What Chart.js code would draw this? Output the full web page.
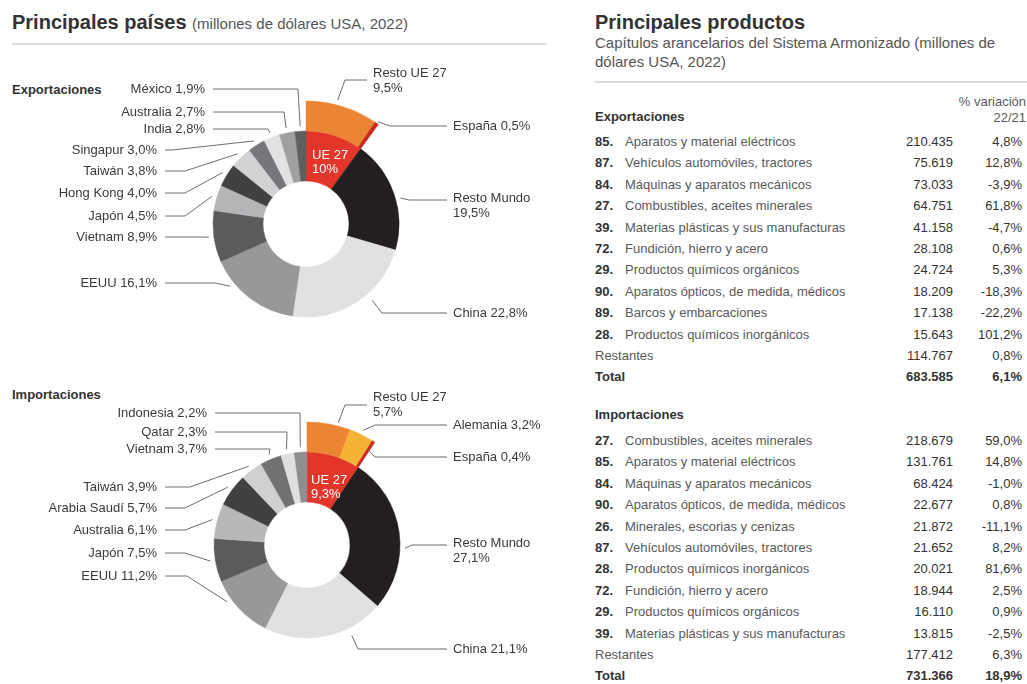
<!DOCTYPE html>
<html lang="es">
<head>
<meta charset="utf-8">
<script src="https://cdn.jsdelivr.net/npm/chart.js@4.4.0/dist/chart.umd.min.js"></script>
<style>
  body { margin: 0; width: 1027px; height: 684px; overflow: hidden; background: #fff; position: relative;
         font-family: "Liberation Sans", Arial, sans-serif; color: #333; }
  .abs { position: absolute; white-space: nowrap; line-height: 16px; }
  .title { font-size: 20px; font-weight: bold; color: #333; line-height: 24px; }
  .title span { font-weight: normal; font-size: 15px; color: #555; }
  .sub { font-size: 15px; color: #555; line-height: 19px; }
  .rule { position: absolute; height: 2px; background: #dcdcdc; }
  .head { font-size: 13px; font-weight: bold; color: #333; }
  .cell { font-size: 13px; color: #333; }
  .name { font-size: 13px; color: #58595b; }
  .code { font-size: 13px; font-weight: bold; color: #333; }
  .tot { font-weight: bold; }
  canvas { position: absolute; left: 0; }
</style>
</head>
<body>
<div class="abs title" style="left:12px; top:10px;">Principales países <span>(millones de dólares USA, 2022)</span></div>
<div class="rule" style="left:12px; top:43px; width:534px;"></div>
<div class="abs head" style="left:12px; top:82px;">Exportaciones</div>
<div class="abs head" style="left:12px; top:387px;">Importaciones</div>

<div class="abs title" style="left:595px; top:10px;">Principales productos</div>
<div class="abs sub" style="left:595px; top:33px;">Capítulos arancelarios del Sistema Armonizado (millones de<br>dólares USA, 2022)</div>
<div class="rule" style="left:595px; top:81px; width:432px;"></div>

<canvas id="expChart" width="560" height="300" style="top:60px"></canvas>
<canvas id="impChart" width="560" height="309" style="top:375px"></canvas>
<div id="tables"></div>

<script>
// Principales países, cuota % (orden horario desde las 12)
const expCountries = ['UE 27', 'Resto Mundo', 'China', 'EEUU', 'Vietnam', 'Japón', 'Hong Kong', 'Taiwán', 'Singapur', 'India', 'Australia', 'México'];
const expShares = [10, 19.5, 22.8, 16.1, 8.9, 4.5, 4.0, 3.8, 3.0, 2.8, 2.7, 1.9];
const expEuParts = ['Resto UE 27', 'España'];
const expEuShares = [9.5, 0.5];

const impCountries = ['UE 27', 'Resto Mundo', 'China', 'EEUU', 'Japón', 'Australia', 'Arabia Saudí', 'Taiwán', 'Vietnam', 'Qatar', 'Indonesia'];
const impShares = [9.3, 27.1, 21.1, 11.2, 7.5, 6.1, 5.7, 3.9, 3.7, 2.3, 2.2];
const impEuParts = ['Resto UE 27', 'Alemania', 'España'];
const impEuShares = [5.7, 3.2, 0.4];

// Principales productos
const expCodes = ['85', '87', '84', '27', '39', '72', '29', '90', '89', '28'];
const expProducts = ['Aparatos y material eléctricos', 'Vehículos automóviles, tractores', 'Máquinas y aparatos mecánicos',
  'Combustibles, aceites minerales', 'Materias plásticas y sus manufacturas', 'Fundición, hierro y acero',
  'Productos químicos orgánicos', 'Aparatos ópticos, de medida, médicos', 'Barcos y embarcaciones', 'Productos químicos inorgánicos'];
const expValues = [210435, 75619, 73033, 64751, 41158, 28108, 24724, 18209, 17138, 15643];
const expChange = [4.8, 12.8, -3.9, 61.8, -4.7, 0.6, 5.3, -18.3, -22.2, 101.2];
const expRest = [114767, 0.8];
const expTotal = [683585, 6.1];

const impCodes = ['27', '85', '84', '90', '26', '87', '28', '72', '29', '39'];
const impProducts = ['Combustibles, aceites minerales', 'Aparatos y material eléctricos', 'Máquinas y aparatos mecánicos',
  'Aparatos ópticos, de medida, médicos', 'Minerales, escorias y cenizas', 'Vehículos automóviles, tractores',
  'Productos químicos inorgánicos', 'Fundición, hierro y acero', 'Productos químicos orgánicos', 'Materias plásticas y sus manufacturas'];
const impValues = [218679, 131761, 68424, 22677, 21872, 21652, 20021, 18944, 16110, 13815];
const impChange = [59.0, 14.8, -1.0, 0.8, -11.1, 8.2, 81.6, 2.5, 0.9, -2.5];
const impRest = [177412, 6.3];
const impTotal = [731366, 18.9];

// colores
const RED = '#e4352b';
const expColors = [RED, '#231f20', '#e1e1e3', '#98989b', '#5b5b5e', '#b5b5b8', '#414143', '#d2d2d4', '#76767a', '#e2e2e4', '#a0a0a3', '#5f5f62'];
const expEuColors = ['#ec8533', '#c9281f'];
const impColors = [RED, '#231f20', '#e1e1e3', '#98989b', '#5b5b5e', '#b8b8bb', '#414143', '#d0d0d2', '#727275', '#dfdfe1', '#8e8e91'];
const impEuColors = ['#ec8533', '#f5b335', '#c9281f'];

const R_IN = 43, R_MID = 93, R_OUT = 123;

function fmtNum(n) {
    return String(n).replace(/\B(?=(\d{3})+(?!\d))/g, '.');
}
function fmtPct(v) {
    return v.toFixed(1).replace('.', ',') + '%';
}
function fmtShort(v) {
    return (Number.isInteger(v) ? String(v) : v.toFixed(1).replace('.', ',')) + '%';
}

// posiciones de etiquetas (coordenadas de pagina)
const expLayout = {
    top: 60, cx: 306, cy: 224, ue: [6, -69],
    inner: [null,
        {x: 453, y: 198, two: true, ly: 200, ex: 409, f: 0.55},
        {x: 453, y: 313, ex: 382, f: 0.4, dr: 8},
        {x: 157, y: 283, right: true, ex: 215, f: 0.73},
        {x: 157, y: 237, right: true, ex: 200},
        {x: 157, y: 216, right: true, ex: 185},
        {x: 157, y: 193, right: true, ex: 185},
        {x: 157, y: 171, right: true, ex: 185},
        {x: 157, y: 150, right: true, ex: 172},
        {x: 205, y: 129, right: true, ex: 268},
        {x: 205, y: 112, right: true, ex: 284},
        {x: 205, y: 89, right: true, ex: 298}
    ],
    outer: [
        {x: 373, y: 73, two: true, ly: 80, ex: 345, f: 0.42},
        {x: 453, y: 126, ex: 390, dr: 2}
    ]
};
const impLayout = {
    top: 375, cx: 307, cy: 545, ue: [4, -65],
    inner: [null,
        {x: 453, y: 543, two: true, ly: 545, ex: 412, f: 0.6},
        {x: 453, y: 649, ex: 358, f: 0.3, dr: 8},
        {x: 157, y: 576, right: true, ex: 187, f: 0.69},
        {x: 157, y: 553, right: true, ex: 185},
        {x: 157, y: 530, right: true, ex: 185},
        {x: 157, y: 508, right: true, ex: 185},
        {x: 157, y: 487, right: true, ex: 190},
        {x: 207, y: 449, right: true, ex: 270},
        {x: 207, y: 432, right: true, ex: 287},
        {x: 207, y: 413, right: true, ex: 300}
    ],
    outer: [
        {x: 373, y: 397, two: true, ly: 405, ex: 345, f: 0.7, dr: 3},
        {x: 453, y: 425, ex: 375},
        {x: 453, y: 457, ex: 375, dr: -10}
    ]
};

// Plugin para etiquetas con lineas guia
const leaderLabels = {
    id: 'leaderLabels',
    afterDraw(chart, args, opts) {
        const ctx = chart.ctx;
        const L = opts.layout;
        const off = L.top;
        ctx.save();
        ctx.font = '13px "Liberation Sans", Arial, sans-serif';
        ctx.textBaseline = 'middle';
        ctx.strokeStyle = '#6d6e71';
        ctx.lineWidth = 1;

        const drawOne = (el, spec, name, value) => {
            const ty = spec.y - off;
            const ly = (spec.ly !== undefined ? spec.ly : spec.y) - off;
            ctx.fillStyle = '#3a3a3c';
            if (spec.right) {
                ctx.textAlign = 'right';
                ctx.fillText(name + ' ' + fmtPct(value), spec.x, ty);
            } else {
                ctx.textAlign = 'left';
                if (spec.two) {
                    ctx.fillText(name, spec.x, ty);
                    ctx.fillText(fmtPct(value), spec.x, ty + 15);
                } else {
                    ctx.fillText(name + ' ' + fmtPct(value), spec.x, ty);
                }
            }
            const f = spec.f !== undefined ? spec.f : 0.5;
            const a = el.startAngle + f * (el.endAngle - el.startAngle);
            const r = el.outerRadius + (spec.dr !== undefined ? spec.dr : 5);
            const tx = el.x + r * Math.cos(a);
            const tyy = el.y + r * Math.sin(a);
            const sx = spec.right ? spec.x + 8 : spec.x - 6;
            ctx.beginPath();
            ctx.moveTo(sx, ly);
            ctx.lineTo(spec.ex, ly);
            ctx.lineTo(tx, tyy);
            ctx.stroke();
        };

        const outerMeta = chart.getDatasetMeta(0);
        const innerMeta = chart.getDatasetMeta(1);
        const innerData = chart.data.datasets[1];
        const outerData = chart.data.datasets[0];

        L.inner.forEach((spec, i) => {
            if (spec) drawOne(innerMeta.data[i], spec, innerData.labels[i], innerData.data[i]);
        });
        L.outer.forEach((spec, i) => {
            drawOne(outerMeta.data[i], spec, outerData.labels[i], outerData.data[i]);
        });

        // texto dentro del sector UE 27
        const ue = innerMeta.data[0];
        ctx.fillStyle = '#ffffff';
        ctx.textAlign = 'left';
        ctx.fillText(innerData.labels[0], ue.x + L.ue[0], ue.y + L.ue[1]);
        ctx.fillText(fmtShort(innerData.data[0]), ue.x + L.ue[0], ue.y + L.ue[1] + 14);
        ctx.restore();
    }
};

function makeDonut(canvasId, countries, shares, colors, euParts, euShares, euColors, layout) {
    const canvas = document.getElementById(canvasId);
    const w = canvas.width, h = canvas.height;
    const cxLocal = layout.cx, cyLocal = layout.cy - layout.top;
    const total = shares.reduce((s, v) => s + v, 0);
    const euSum = euShares.reduce((s, v) => s + v, 0);
    const filler = total - euSum;

    return new Chart(canvas.getContext('2d'), {
        type: 'doughnut',
        data: {
            datasets: [
                {
                    labels: euParts,
                    data: [...euShares, filler],
                    backgroundColor: [...euColors, 'rgba(0,0,0,0)'],
                    borderColor: [...euColors, 'rgba(0,0,0,0)'],
                    borderWidth: 0.5,
                    weight: R_OUT - R_MID
                },
                {
                    labels: countries,
                    data: shares,
                    backgroundColor: colors,
                    borderColor: colors,
                    borderWidth: 0.5,
                    weight: R_MID - R_IN
                }
            ]
        },
        options: {
            responsive: false,
            animation: false,
            events: [],
            radius: R_OUT,
            cutout: (R_IN / R_OUT * 100) + '%',
            layout: {
                padding: {
                    left: Math.max(2 * cxLocal - w, 0),
                    right: Math.max(w - 2 * cxLocal, 0),
                    top: Math.max(2 * cyLocal - h, 0),
                    bottom: Math.max(h - 2 * cyLocal, 0)
                }
            },
            plugins: {
                legend: { display: false },
                tooltip: { enabled: false },
                leaderLabels: { layout: layout }
            }
        },
        plugins: [leaderLabels]
    });
}

makeDonut('expChart', expCountries, expShares, expColors, expEuParts, expEuShares, expEuColors, expLayout);
makeDonut('impChart', impCountries, impShares, impColors, impEuParts, impEuShares, impEuColors, impLayout);

// Tablas de productos
function buildTable(container, y0, codes, products, values, change, rest, total) {
    const step = 21.4;
    let html = '';
    const row = (y, left, right1, right2, cls) => {
        html += left;
        html += `<div class="abs cell ${cls}" style="top:${y - 8}px; right:${1027 - 953}px; text-align:right;">${right1}</div>`;
        html += `<div class="abs cell ${cls}" style="top:${y - 8}px; right:5px; text-align:right;">${right2}</div>`;
    };
    codes.forEach((c, i) => {
        const y = y0 + i * step;
        row(y,
            `<div class="abs code" style="left:595px; top:${y - 8}px;">${c}.</div>` +
            `<div class="abs name" style="left:625px; top:${y - 8}px;">${products[i]}</div>`,
            fmtNum(values[i]), fmtPct(change[i]), '');
    });
    let y = y0 + codes.length * step;
    row(y, `<div class="abs name" style="left:595px; top:${y - 8}px;">Restantes</div>`,
        fmtNum(rest[0]), fmtPct(rest[1]), '');
    y += step;
    row(y, `<div class="abs code" style="left:595px; top:${y - 8}px;">Total</div>`,
        fmtNum(total[0]), fmtPct(total[1]), 'tot');
    container.insertAdjacentHTML('beforeend', html);
}

const tables = document.getElementById('tables');
tables.insertAdjacentHTML('beforeend',
    '<div class="abs head" style="left:595px; top:109px;">Exportaciones</div>' +
    '<div class="abs name" style="right:1px; top:94px; text-align:right;">% variación</div>' +
    '<div class="abs name" style="right:1px; top:110px; text-align:right;">22/21</div>' +
    '<div class="abs head" style="left:595px; top:407px;">Importaciones</div>');
buildTable(tables, 142, expCodes, expProducts, expValues, expChange, expRest, expTotal);
buildTable(tables, 441, impCodes, impProducts, impValues, impChange, impRest, impTotal);
</script>
</body>
</html>
